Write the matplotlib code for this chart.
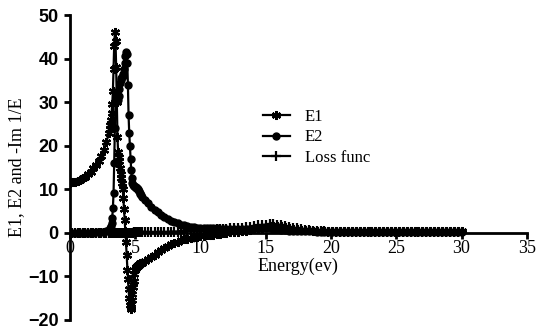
import matplotlib
matplotlib.use("Agg")
import matplotlib.pyplot as plt

# energy grid (eV)
energy = [0.0, 0.2, 0.4, 0.6, 0.8, 1.0, 1.2, 1.4, 1.6, 1.8, 2.0, 2.2, 2.4, 2.6, 2.8,
          3.00, 3.05, 3.10, 3.15, 3.20, 3.25, 3.30, 3.35, 3.40, 3.45,
          3.50, 3.55, 3.60, 3.65, 3.70, 3.75, 3.80, 3.85, 3.90, 3.95,
          4.00, 4.05, 4.10, 4.15, 4.20, 4.25, 4.30, 4.35, 4.40, 4.45,
          4.50, 4.55, 4.60, 4.65, 4.70, 4.75, 4.80, 4.85, 4.90, 4.95,
          5.00, 5.05, 5.10, 5.15, 5.20, 5.25, 5.30, 5.35, 5.40, 5.45,
          5.5, 5.75, 6.0, 6.25, 6.5, 6.75, 7.0, 7.25, 7.5, 7.75, 8.0, 8.25, 8.5,
          8.75, 9.0, 9.25, 9.5, 9.75, 10.0, 10.25, 10.5, 10.75, 11.0, 11.25, 11.5, 11.75,
          12.0, 12.3, 12.6, 12.9, 13.2, 13.5, 13.8, 14.1, 14.4, 14.7,
          15.0, 15.3, 15.6, 15.9, 16.2, 16.5, 16.8, 17.1, 17.4, 17.7,
          18.0, 18.3, 18.6, 18.9, 19.2, 19.5, 19.8, 20.1, 20.4, 20.7,
          21.0, 21.3, 21.6, 21.9, 22.2, 22.5, 22.8, 23.1, 23.4, 23.7,
          24.0, 24.3, 24.6, 24.9, 25.2, 25.5, 25.8, 26.1, 26.4, 26.7,
          27.0, 27.3, 27.6, 27.9, 28.2, 28.5, 28.8, 29.1, 29.4, 29.7,
          30.0]

e1 = [11.5, 11.6, 11.7, 11.9, 12.2, 12.5, 12.9, 13.4, 14.0, 14.8, 15.6, 16.5, 17.6, 19.0, 20.8,
      23.0, 23.8, 24.8, 26.0, 27.5, 29.5, 32.5, 37.5, 43.0, 46.0,
      44.0, 38.0, 30.0, 22.0, 18.5, 17.5, 16.5, 15.0, 13.5, 12.5,
      11.5, 10.0, 8.0, 5.5, 3.0, 0.5, -2.0, -5.0, -8.5, -10.5,
      -13.0, -15.0, -16.5, -17.5, -17.0, -15.5, -14.0, -12.5, -11.0, -9.5,
      -8.5, -8.0, -7.8, -7.6, -7.5, -7.4, -7.3, -7.2, -7.0, -6.9,
      -7.0, -6.5, -6.0, -5.6, -5.0, -4.4, -3.9, -3.4, -3.0, -2.6, -2.3, -2.0, -1.7,
      -1.5, -1.3, -1.1, -1.0, -0.9, -0.8, -0.7, -0.6, -0.5, -0.4, -0.3, -0.2, -0.1,
      0.0, 0.1, 0.2, 0.3, 0.4, 0.5, 0.6, 0.8, 1.0, 1.2,
      1.4, 1.5, 1.6, 1.6, 1.5, 1.3, 1.1, 0.9, 0.8, 0.7,
      0.6, 0.6, 0.5, 0.5, 0.5, 0.5, 0.5, 0.5, 0.5, 0.5,
      0.5, 0.5, 0.5, 0.4, 0.4, 0.4, 0.4, 0.4, 0.4, 0.4,
      0.4, 0.4, 0.4, 0.4, 0.4, 0.4, 0.4, 0.4, 0.4, 0.4,
      0.4, 0.4, 0.4, 0.4, 0.4, 0.4, 0.4, 0.4, 0.4, 0.4,
      0.4]

e2 = [0.0, 0.0, 0.0, 0.0, 0.0, 0.0, 0.0, 0.0, 0.0, 0.0, 0.1, 0.1, 0.2, 0.3, 0.4,
      0.6, 0.8, 1.0, 1.5, 2.3, 3.5, 5.8, 9.2, 16.0, 24.0,
      30.0, 31.0, 31.5, 31.0, 30.5, 31.5, 33.0, 34.5, 35.0, 35.5,
      35.8, 36.0, 36.5, 37.5, 39.0, 40.5, 41.5, 41.0, 39.0, 34.0,
      27.0, 23.0, 20.0, 17.0, 14.5, 12.5, 11.5, 11.0, 10.8, 10.7,
      10.6, 10.5, 10.4, 10.2, 10.0, 9.8, 9.5, 9.2, 8.9, 8.6,
      8.3, 7.5, 6.8, 6.0, 5.3, 4.7, 4.2, 3.7, 3.2, 2.8, 2.5, 2.2, 1.9,
      1.7, 1.5, 1.4, 1.3, 1.2, 1.2, 1.1, 1.1, 1.0, 1.0, 1.0, 0.9, 0.9,
      0.9, 0.9, 0.9, 0.9, 0.9, 0.9, 0.9, 1.0, 1.0, 1.0,
      1.0, 1.0, 0.9, 0.8, 0.7, 0.6, 0.5, 0.5, 0.4, 0.4,
      0.4, 0.4, 0.4, 0.3, 0.3, 0.3, 0.3, 0.3, 0.3, 0.3,
      0.3, 0.3, 0.3, 0.3, 0.3, 0.3, 0.3, 0.3, 0.3, 0.3,
      0.2, 0.2, 0.2, 0.2, 0.2, 0.2, 0.2, 0.2, 0.2, 0.2,
      0.2, 0.2, 0.2, 0.2, 0.2, 0.2, 0.2, 0.2, 0.2, 0.2,
      0.2]

loss = [0.0, 0.0, 0.0, 0.0, 0.0, 0.0, 0.0, 0.0, 0.0, 0.0, 0.0, 0.0, 0.0, 0.0, 0.0,
        0.0, 0.0, 0.0, 0.0, 0.0, 0.0, 0.0, 0.0, 0.0, 0.0,
        0.0, 0.0, 0.0, 0.0, 0.0, 0.0, 0.0, 0.0, 0.0, 0.0,
        0.0, 0.0, 0.0, 0.0, 0.0, 0.0, 0.0, 0.0, 0.0, 0.0,
        0.0, 0.0, 0.0, 0.0, 0.0, 0.0, 0.0, 0.0, 0.1, 0.1,
        0.1, 0.1, 0.1, 0.1, 0.1, 0.1, 0.1, 0.1, 0.1, 0.1,
        0.1, 0.1, 0.1, 0.1, 0.1, 0.2, 0.2, 0.2, 0.2, 0.3, 0.3, 0.3, 0.3,
        0.4, 0.4, 0.4, 0.5, 0.5, 0.5, 0.6, 0.6, 0.7, 0.7, 0.8, 0.8, 0.9,
        0.9, 1.0, 1.0, 1.1, 1.2, 1.3, 1.4, 1.5, 1.7, 1.8,
        1.9, 2.0, 2.0, 1.9, 1.8, 1.6, 1.4, 1.2, 1.0, 0.8,
        0.7, 0.6, 0.5, 0.5, 0.4, 0.4, 0.3, 0.3, 0.3, 0.3,
        0.2, 0.2, 0.2, 0.2, 0.2, 0.2, 0.2, 0.2, 0.2, 0.2,
        0.2, 0.2, 0.2, 0.2, 0.2, 0.2, 0.2, 0.2, 0.2, 0.2,
        0.1, 0.1, 0.1, 0.1, 0.1, 0.1, 0.1, 0.1, 0.1, 0.1,
        0.1]

x_ticks = [0, 5, 10, 15, 20, 25, 30, 35]
y_ticks = [-20, -10, 0, 10, 20, 30, 40, 50]

serif = 'Liberation Serif'
sans = 'Liberation Sans'

fig = plt.figure(figsize=(5.37, 3.34), dpi=100)
ax = fig.add_axes([0.130, 0.042, 0.851, 0.913])

ax.plot(energy, e1, color='black', lw=1.6, marker=(6, 2, 0), ms=6.5, mew=1.6, label='E1')
ax.plot(energy, e2, color='black', lw=1.6, marker='o', ms=5, label='E2')
ax.plot(energy, loss, color='black', lw=1.6, marker='+', ms=7, mew=1.6, label='Loss func')

ax.set_xlim(0, 35)
ax.set_ylim(-20, 50)
ax.set_xticks(x_ticks)
ax.set_yticks(y_ticks)

ax.spines['top'].set_visible(False)
ax.spines['right'].set_visible(False)
ax.spines['bottom'].set_position(('data', 0))
ax.spines['left'].set_linewidth(2)
ax.spines['bottom'].set_linewidth(2)
ax.tick_params(axis='both', direction='out', length=4.5, width=2)
ax.tick_params(axis='x', pad=1)

for lbl in ax.get_yticklabels():
    lbl.set_fontfamily(sans)
    lbl.set_fontweight('bold')
    lbl.set_fontsize(13)
for lbl in ax.get_xticklabels():
    lbl.set_fontfamily(serif)
    lbl.set_fontsize(13)

ax.set_ylabel('E1, E2 and -Im 1/E', fontfamily=serif, fontsize=13, labelpad=2)
ax.set_xlabel('Energy(ev)', fontfamily=serif, fontsize=13, labelpad=0)

ax.legend(loc='upper left', bbox_to_anchor=(0.39, 0.74), frameon=False, numpoints=1,
          handlelength=1.6, handletextpad=0.9, labelspacing=0.25,
          prop={'family': serif, 'size': 12})

fig.savefig('out.png', dpi=100)
